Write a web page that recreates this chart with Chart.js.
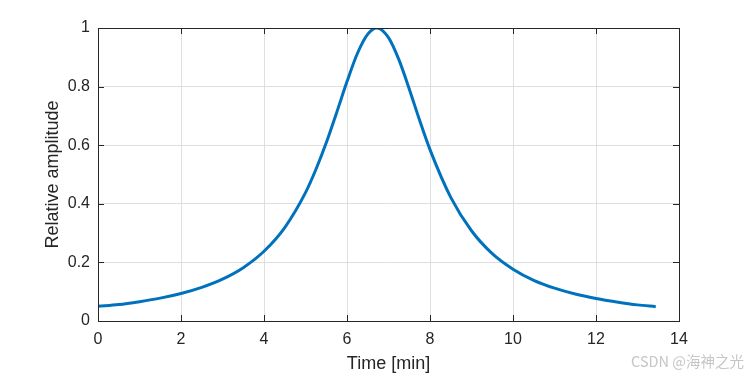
<!DOCTYPE html>
<html>
<head>
<meta charset="UTF-8">
<style>
  html, body { margin: 0; padding: 0; background: #fff; }
  #wrap { width: 750px; height: 375px; }
</style>
</head>
<body>
<div id="wrap">
    <canvas id="myChart" width="750" height="375"></canvas>
</div>

<script src="https://cdn.jsdelivr.net/npm/chart.js"></script>

<script>
    // values
    const timeMin = [0, 0.5, 1, 1.5, 2, 2.5, 3, 3.5, 4, 4.5, 5, 5.25, 5.5, 5.75, 6, 6.25, 6.5, 6.72,
        7, 7.25, 7.5, 7.75, 8, 8.5, 9, 9.5, 10, 10.5, 11, 11.5, 12, 12.5, 13, 13.44];
    const amplitude = [0.05, 0.056, 0.066, 0.078, 0.094, 0.115, 0.143, 0.182, 0.238, 0.319, 0.438, 0.517,
        0.608, 0.711, 0.817, 0.913, 0.979, 1.0, 0.967, 0.892, 0.792, 0.685, 0.585, 0.422, 0.308, 0.23,
        0.177, 0.139, 0.112, 0.092, 0.077, 0.065, 0.055, 0.049];
    const xTicks = [0, 2, 4, 6, 8, 10, 12, 14];
    const yTicks = [0, 0.2, 0.4, 0.6, 0.8, 1];

    const textColor = '#262626';
    const font = 'Liberation Sans';

    // matlab-like box with inward ticks + watermark
    const boxPlugin = {
        id: 'box',
        afterDraw(chart) {
            const ctx = chart.ctx;
            const a = chart.chartArea;
            const xs = chart.scales.x, ys = chart.scales.y;
            const L = 6;
            ctx.save();
            ctx.strokeStyle = textColor;
            ctx.lineWidth = 1;
            ctx.beginPath();
            xTicks.forEach(v => {
                const px = Math.round(xs.getPixelForValue(v)) + 0.5;
                ctx.moveTo(px, a.bottom); ctx.lineTo(px, a.bottom - L);
                ctx.moveTo(px, a.top); ctx.lineTo(px, a.top + L);
            });
            yTicks.forEach(v => {
                const py = Math.round(ys.getPixelForValue(v)) + 0.5;
                ctx.moveTo(a.left, py); ctx.lineTo(a.left + L, py);
                ctx.moveTo(a.right, py); ctx.lineTo(a.right - L, py);
            });
            ctx.stroke();
            ctx.strokeRect(Math.round(a.left) + 0.5, Math.round(a.top) + 0.5,
                Math.round(a.right - a.left), Math.round(a.bottom - a.top));
            ctx.fillStyle = '#c6c6c6';
            ctx.font = '14.5px "Noto Sans CJK SC", sans-serif';
            ctx.textAlign = 'right';
            ctx.textBaseline = 'middle';
            ctx.fillText('CSDN @海神之光', 744, 361);
            ctx.restore();
        }
    };

    const ctx = document.getElementById('myChart');
    new Chart(ctx, {
        type: 'line',
        data: {
            datasets: [{
                data: timeMin.map((t, i) => ({ x: t, y: amplitude[i] })),
                borderColor: '#0072BD',
                borderWidth: 3,
                pointRadius: 0,
                cubicInterpolationMode: 'monotone',
                fill: false
            }]
        },
        options: {
            responsive: false,
            animation: false,
            layout: { padding: { top: 28, right: 71, left: 42, bottom: 0 } },
            plugins: { legend: { display: false }, tooltip: { enabled: false } },
            scales: {
                x: {
                    type: 'linear',
                    min: 0, max: 14,
                    afterBuildTicks: s => { s.ticks = xTicks.map(v => ({ value: v })); },
                    afterFit: s => { s.height = 54; },
                    grid: { color: '#dfdfdf', tickLength: 0, drawTicks: false },
                    border: { display: false },
                    ticks: { color: textColor, font: { family: font, size: 16 }, padding: 9, maxRotation: 0 },
                    title: { display: true, text: 'Time [min]', color: textColor,
                        font: { family: font, size: 18 }, padding: { top: 0, bottom: 0 } }
                },
                y: {
                    min: 0, max: 1,
                    afterBuildTicks: s => { s.ticks = yTicks.map(v => ({ value: v })); },
                    afterFit: s => { s.width = 56; },
                    grid: { color: '#dfdfdf', tickLength: 0, drawTicks: false },
                    border: { display: false },
                    ticks: { color: textColor, font: { family: font, size: 16 }, padding: 8,
                        callback: v => String(v) },
                    title: { display: true, text: 'Relative amplitude', color: textColor,
                        font: { family: font, size: 18 }, padding: { top: 0, bottom: 0 } }
                }
            }
        },
        plugins: [boxPlugin]
    });
</script>
</body>
</html>
